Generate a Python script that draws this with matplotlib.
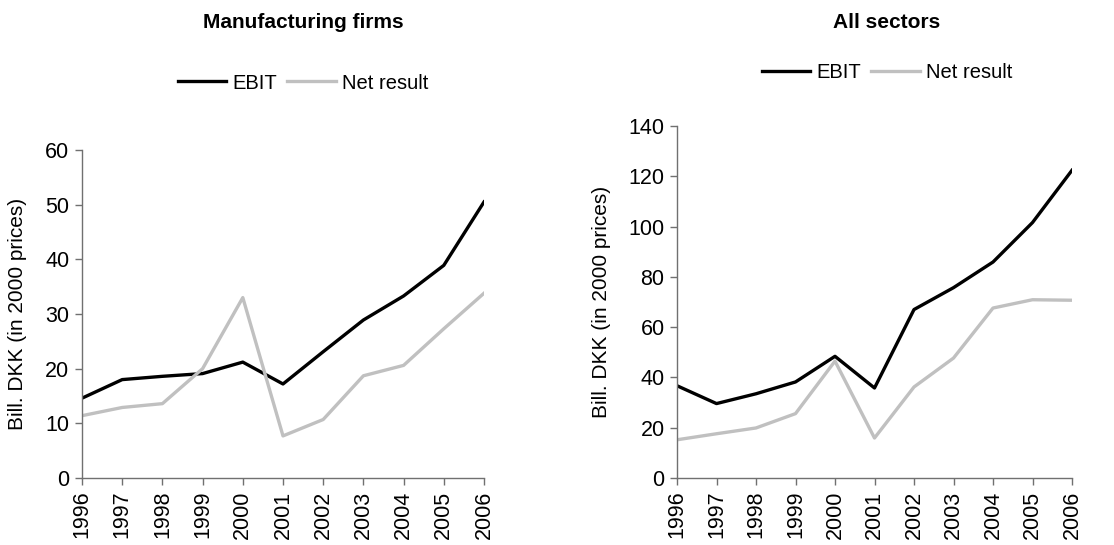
import matplotlib
matplotlib.use('Agg')
import matplotlib.pyplot as plt

plt.rcParams['font.family'] = ['Liberation Sans', 'DejaVu Sans']

years = [1996, 1997, 1998, 1999, 2000, 2001, 2002, 2003, 2004, 2005, 2006]
manu_ebit = [14.6, 18.0, 18.6, 19.1, 21.2, 17.2, 23.1, 28.9, 33.3, 38.9, 50.5]
manu_net = [11.4, 12.9, 13.6, 20.0, 33.0, 7.7, 10.7, 18.7, 20.6, 27.3, 33.8]
all_ebit = [36.7, 29.6, 33.5, 38.2, 48.4, 35.8, 67.0, 75.7, 85.9, 101.6, 122.4]
all_net = [15.2, 17.6, 19.9, 25.6, 46.5, 15.9, 36.2, 47.7, 67.6, 70.9, 70.7]

W, H = 1114, 545
fig = plt.figure(figsize=(W / 100, H / 100), dpi=100)

ax1 = fig.add_axes([82 / W, 1 - 478 / H, 402 / W, 328 / H])
ax2 = fig.add_axes([677 / W, 1 - 478 / H, 395 / W, 352 / H])

panels = [
    (ax1, manu_ebit, manu_net, 60, 10, 'Manufacturing firms', 303, 83),
    (ax2, all_ebit, all_net, 140, 20, 'All sectors', 887, 73),
]

for ax, ebit, net, ymax, step, title, tx, ly in panels:
    ax.plot(years, ebit, color='black', lw=2.4, label='EBIT', solid_joinstyle='round')
    ax.plot(years, net, color='#c0c0c0', lw=2.4, label='Net result', solid_joinstyle='round')
    ax.set_xlim(1996, 2006)
    ax.set_ylim(0, ymax)
    ax.set_xticks(years)
    ax.set_xticklabels([str(y) for y in years], rotation=90)
    ax.set_yticks(range(0, ymax + 1, step))
    for s in ['top', 'right']:
        ax.spines[s].set_visible(False)
    for s in ['left', 'bottom']:
        ax.spines[s].set_color('#707070')
        ax.spines[s].set_linewidth(1.0)
    ax.tick_params(axis='both', colors='#707070', labelcolor='black', labelsize=15.5,
                   length=5, width=1.0, direction='out', pad=4)
    ax.set_ylabel('Bill. DKK (in 2000 prices)', fontsize=15)
    ax.patch.set_alpha(0)
    fig.text(tx / W, 1 - 22 / H, title, ha='center', va='center',
             fontsize=15, fontweight='bold')
    ax.legend(loc='center', bbox_to_anchor=(tx / W, 1 - ly / H),
              bbox_transform=fig.transFigure, ncol=2, frameon=False,
              fontsize=14.5, handlelength=2.4, handletextpad=0.3,
              columnspacing=0.5, borderpad=0)

ax1.yaxis.set_label_coords(-0.137, 0.5)
ax2.yaxis.set_label_coords(-0.167, 0.5)

fig.savefig('out.png', dpi=100)
